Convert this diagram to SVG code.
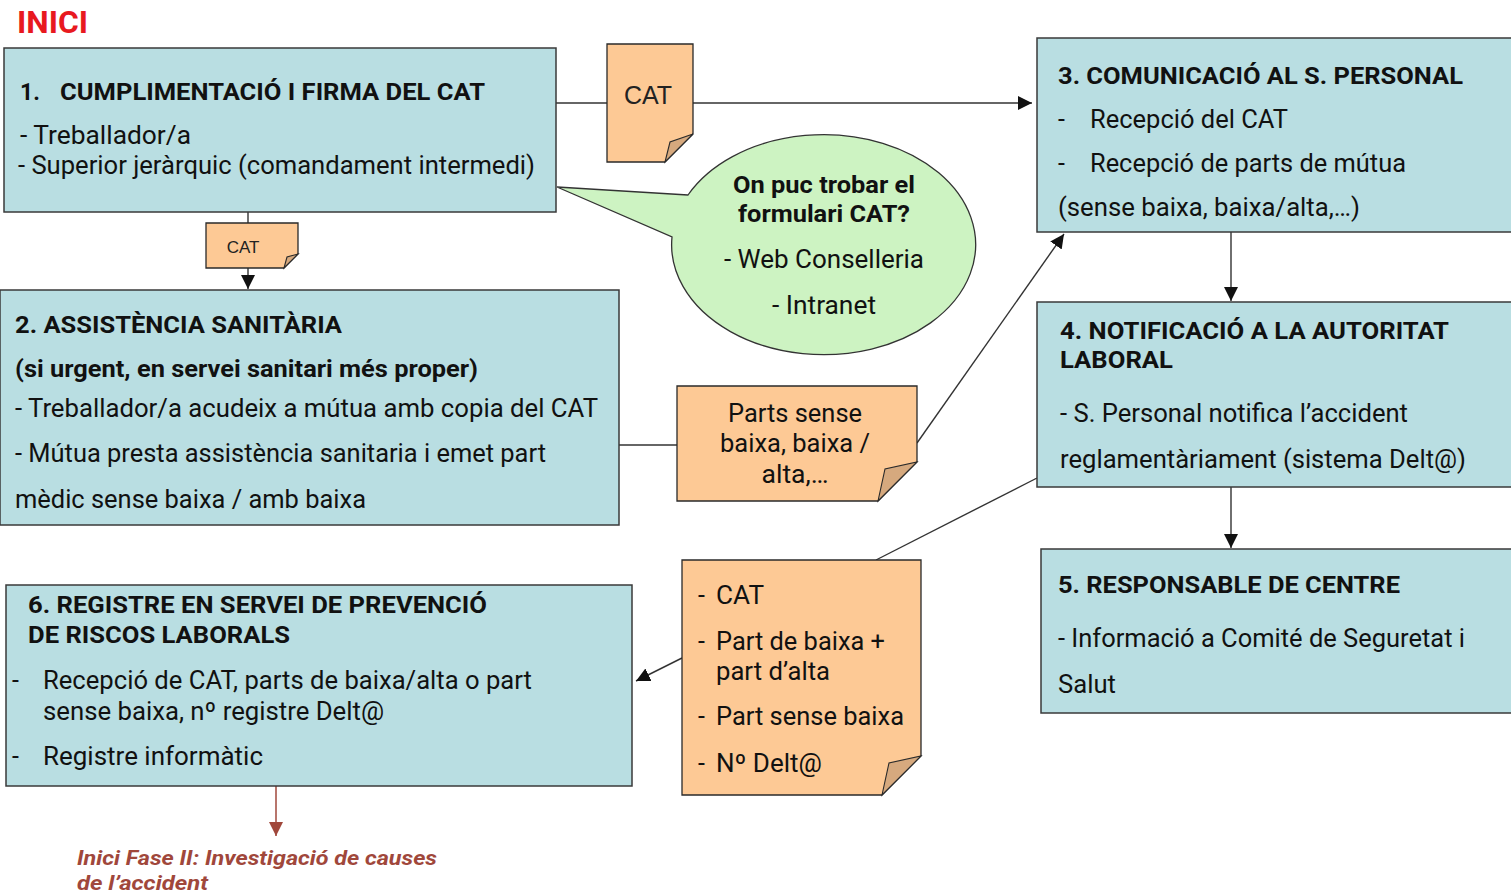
<svg xmlns="http://www.w3.org/2000/svg" width="1511" height="893" viewBox="0 0 1511 893">
<defs>
<style>
.box{fill:#b9dee2;stroke:#3a3a3a;stroke-width:1.5}
.note{fill:#fdc995;stroke:#2a2a2a;stroke-width:1.3}
.fold{fill:#d6a97e;stroke:#2a2a2a;stroke-width:1.1}
.t{font-family:Roboto,"Liberation Sans",sans-serif;font-size:25px;fill:#111}
.b{font-family:Roboto,"Liberation Sans",sans-serif;font-size:23px;font-weight:bold;fill:#111}
.a{font-family:"Liberation Sans",Arial,sans-serif;fill:#222}
.ln{stroke:#333;stroke-width:1.4;fill:none}
</style>
<marker id="ahb" viewBox="0 0 10 10" refX="10" refY="5" markerWidth="14" markerHeight="14" markerUnits="userSpaceOnUse" orient="auto"><path d="M0,0L10,5L0,10z" fill="#a0473b"/></marker>
<marker id="ahl" viewBox="0 0 10 10" refX="10" refY="5" markerWidth="14" markerHeight="14" markerUnits="userSpaceOnUse" orient="auto"><path d="M0,0L10,5L0,10z" fill="#111"/></marker>
</defs>
<rect width="1511" height="893" fill="#fff"/>

<text x="17" y="33" font-family="Roboto,'Liberation Sans',sans-serif" font-size="31" font-weight="bold" fill="#e8191f" textLength="71" lengthAdjust="spacingAndGlyphs">INICI</text>

<g id="connectors">
<line class="ln" x1="556" y1="103" x2="607" y2="103"/>
<line class="ln" x1="693" y1="103" x2="1032" y2="103" marker-end="url(#ahl)"/>
<line class="ln" x1="248" y1="212" x2="248" y2="223"/>
<line class="ln" x1="248" y1="268" x2="248" y2="289" marker-end="url(#ahl)"/>
<line class="ln" x1="619" y1="445" x2="677" y2="445"/>
<line class="ln" x1="917" y1="443" x2="1064" y2="234" marker-end="url(#ahl)"/>
<line class="ln" x1="1231" y1="232" x2="1231" y2="301" marker-end="url(#ahl)"/>
<line class="ln" x1="1231" y1="487" x2="1231" y2="548" marker-end="url(#ahl)"/>
<line class="ln" x1="1037" y1="478" x2="876" y2="560"/>
<line class="ln" x1="682" y1="658" x2="636" y2="681" marker-end="url(#ahl)"/>
<line x1="276" y1="786" x2="276" y2="836" stroke="#a0473b" stroke-width="1.5" marker-end="url(#ahb)"/>
</g>

<g id="node1">
<rect class="box" x="4" y="48" width="552" height="164"/>
<text class="b" x="20" y="100">1.</text>
<text class="b" x="60" y="100" textLength="425" lengthAdjust="spacingAndGlyphs">CUMPLIMENTACIÓ I FIRMA DEL CAT</text>
<text class="t" x="20" y="144" textLength="171" lengthAdjust="spacingAndGlyphs">- Treballador/a</text>
<text class="t" x="18" y="174" textLength="517" lengthAdjust="spacingAndGlyphs">- Superior jeràrquic (comandament intermedi)</text>
</g>

<g id="note-cat1">
<path class="note" d="M607,44H693V134L665,162H607Z"/>
<path class="fold" d="M665,162L670,142L693,134Z"/>
<text class="a" x="648" y="104" font-size="25" text-anchor="middle">CAT</text>
</g>

<g id="bubble">
<path d="M688,195 L557,187 L672,237 A152,110 0 1 0 688,195 Z" fill="#cdf3c2" stroke="#333" stroke-width="1.3"/>
<text class="b" x="824" y="193" text-anchor="middle" textLength="182" lengthAdjust="spacingAndGlyphs">On puc trobar el</text>
<text class="b" x="824" y="222" text-anchor="middle" textLength="172" lengthAdjust="spacingAndGlyphs">formulari CAT?</text>
<text class="t" x="824" y="268" text-anchor="middle" textLength="200" lengthAdjust="spacingAndGlyphs">- Web Conselleria</text>
<text class="t" x="824" y="314" text-anchor="middle" textLength="104" lengthAdjust="spacingAndGlyphs">- Intranet</text>
</g>

<g id="note-cat2">
<path class="note" d="M206,223H298V254L284,268H206Z"/>
<path class="fold" d="M284,268L287,257L298,254Z"/>
<text class="a" x="243" y="253" font-size="17" text-anchor="middle">CAT</text>
</g>

<g id="node2">
<rect class="box" x="0" y="290" width="619" height="235"/>
<text class="b" x="15" y="333" textLength="327" lengthAdjust="spacingAndGlyphs">2. ASSISTÈNCIA SANITÀRIA</text>
<text class="b" x="15" y="377" textLength="463" lengthAdjust="spacingAndGlyphs">(si urgent, en servei sanitari més proper)</text>
<text class="t" x="15" y="417" textLength="583" lengthAdjust="spacingAndGlyphs">- Treballador/a acudeix a mútua amb copia del CAT</text>
<text class="t" x="15" y="462" textLength="531" lengthAdjust="spacingAndGlyphs">- Mútua presta assistència sanitaria i emet part</text>
<text class="t" x="15" y="508" textLength="351" lengthAdjust="spacingAndGlyphs">mèdic sense baixa / amb baixa</text>
</g>

<g id="note-parts">
<path class="note" d="M677,386H917V462L878,501H677Z"/>
<path class="fold" d="M878,501L885,469L917,462Z"/>
<text class="t" x="795" y="422" text-anchor="middle" textLength="134" lengthAdjust="spacingAndGlyphs">Parts sense</text>
<text class="t" x="795" y="452" text-anchor="middle" textLength="150" lengthAdjust="spacingAndGlyphs">baixa, baixa /</text>
<text class="t" x="795" y="483" text-anchor="middle" textLength="67" lengthAdjust="spacingAndGlyphs">alta,…</text>
</g>

<g id="node3">
<rect class="box" x="1037" y="38" width="480" height="194"/>
<text class="b" x="1058" y="84" textLength="405" lengthAdjust="spacingAndGlyphs">3. COMUNICACIÓ AL S. PERSONAL</text>
<text class="t" x="1058" y="128">-</text>
<text class="t" x="1090" y="128" textLength="198" lengthAdjust="spacingAndGlyphs">Recepció del CAT</text>
<text class="t" x="1058" y="172">-</text>
<text class="t" x="1090" y="172" textLength="316" lengthAdjust="spacingAndGlyphs">Recepció de parts de mútua</text>
<text class="t" x="1058" y="216" textLength="302" lengthAdjust="spacingAndGlyphs">(sense baixa, baixa/alta,…)</text>
</g>

<g id="node4">
<rect class="box" x="1037" y="302" width="480" height="185"/>
<text class="b" x="1060" y="339" textLength="389" lengthAdjust="spacingAndGlyphs">4. NOTIFICACIÓ A LA AUTORITAT</text>
<text class="b" x="1060" y="368" textLength="113" lengthAdjust="spacingAndGlyphs">LABORAL</text>
<text class="t" x="1060" y="422" textLength="348" lengthAdjust="spacingAndGlyphs">- S. Personal notifica l’accident</text>
<text class="t" x="1060" y="468" textLength="406" lengthAdjust="spacingAndGlyphs">reglamentàriament (sistema Delt@)</text>
</g>

<g id="node5">
<rect class="box" x="1041" y="549" width="476" height="164"/>
<text class="b" x="1058" y="593" textLength="342" lengthAdjust="spacingAndGlyphs">5. RESPONSABLE DE CENTRE</text>
<text class="t" x="1058" y="647" textLength="407" lengthAdjust="spacingAndGlyphs">- Informació a Comité de Seguretat i</text>
<text class="t" x="1058" y="693" textLength="58" lengthAdjust="spacingAndGlyphs">Salut</text>
</g>

<g id="note-docs">
<path class="note" d="M682,560H921V756L882,795H682Z"/>
<path class="fold" d="M882,795L889,763L921,756Z"/>
<text class="t" x="698" y="604">-</text>
<text class="t" x="716" y="604" textLength="48" lengthAdjust="spacingAndGlyphs">CAT</text>
<text class="t" x="698" y="650">-</text>
<text class="t" x="716" y="650" textLength="169" lengthAdjust="spacingAndGlyphs">Part de baixa +</text>
<text class="t" x="716" y="680" textLength="114" lengthAdjust="spacingAndGlyphs">part d’alta</text>
<text class="t" x="698" y="725">-</text>
<text class="t" x="716" y="725" textLength="188" lengthAdjust="spacingAndGlyphs">Part sense baixa</text>
<text class="t" x="698" y="772">-</text>
<text class="t" x="716" y="772" textLength="106" lengthAdjust="spacingAndGlyphs">Nº Delt@</text>
</g>

<g id="node6">
<rect class="box" x="6" y="585" width="626" height="201"/>
<text class="b" x="28" y="613" textLength="459" lengthAdjust="spacingAndGlyphs">6. REGISTRE EN SERVEI DE PREVENCIÓ</text>
<text class="b" x="28" y="643" textLength="262" lengthAdjust="spacingAndGlyphs">DE RISCOS LABORALS</text>
<text class="t" x="12" y="689">-</text>
<text class="t" x="43" y="689" textLength="489" lengthAdjust="spacingAndGlyphs">Recepció de CAT, parts de baixa/alta o part</text>
<text class="t" x="43" y="720" textLength="341" lengthAdjust="spacingAndGlyphs">sense baixa, nº registre Delt@</text>
<text class="t" x="12" y="765">-</text>
<text class="t" x="43" y="765" textLength="220" lengthAdjust="spacingAndGlyphs">Registre informàtic</text>
</g>

<g id="next-phase">
<text x="77" y="865" font-family="Roboto,'Liberation Sans',sans-serif" font-size="21" font-style="italic" font-weight="bold" fill="#a0473b" textLength="360" lengthAdjust="spacingAndGlyphs">Inici Fase II: Investigació de causes</text>
<text x="77" y="890" font-family="Roboto,'Liberation Sans',sans-serif" font-size="21" font-style="italic" font-weight="bold" fill="#a0473b" textLength="131" lengthAdjust="spacingAndGlyphs">de l’accident</text>
</g>
</svg>
